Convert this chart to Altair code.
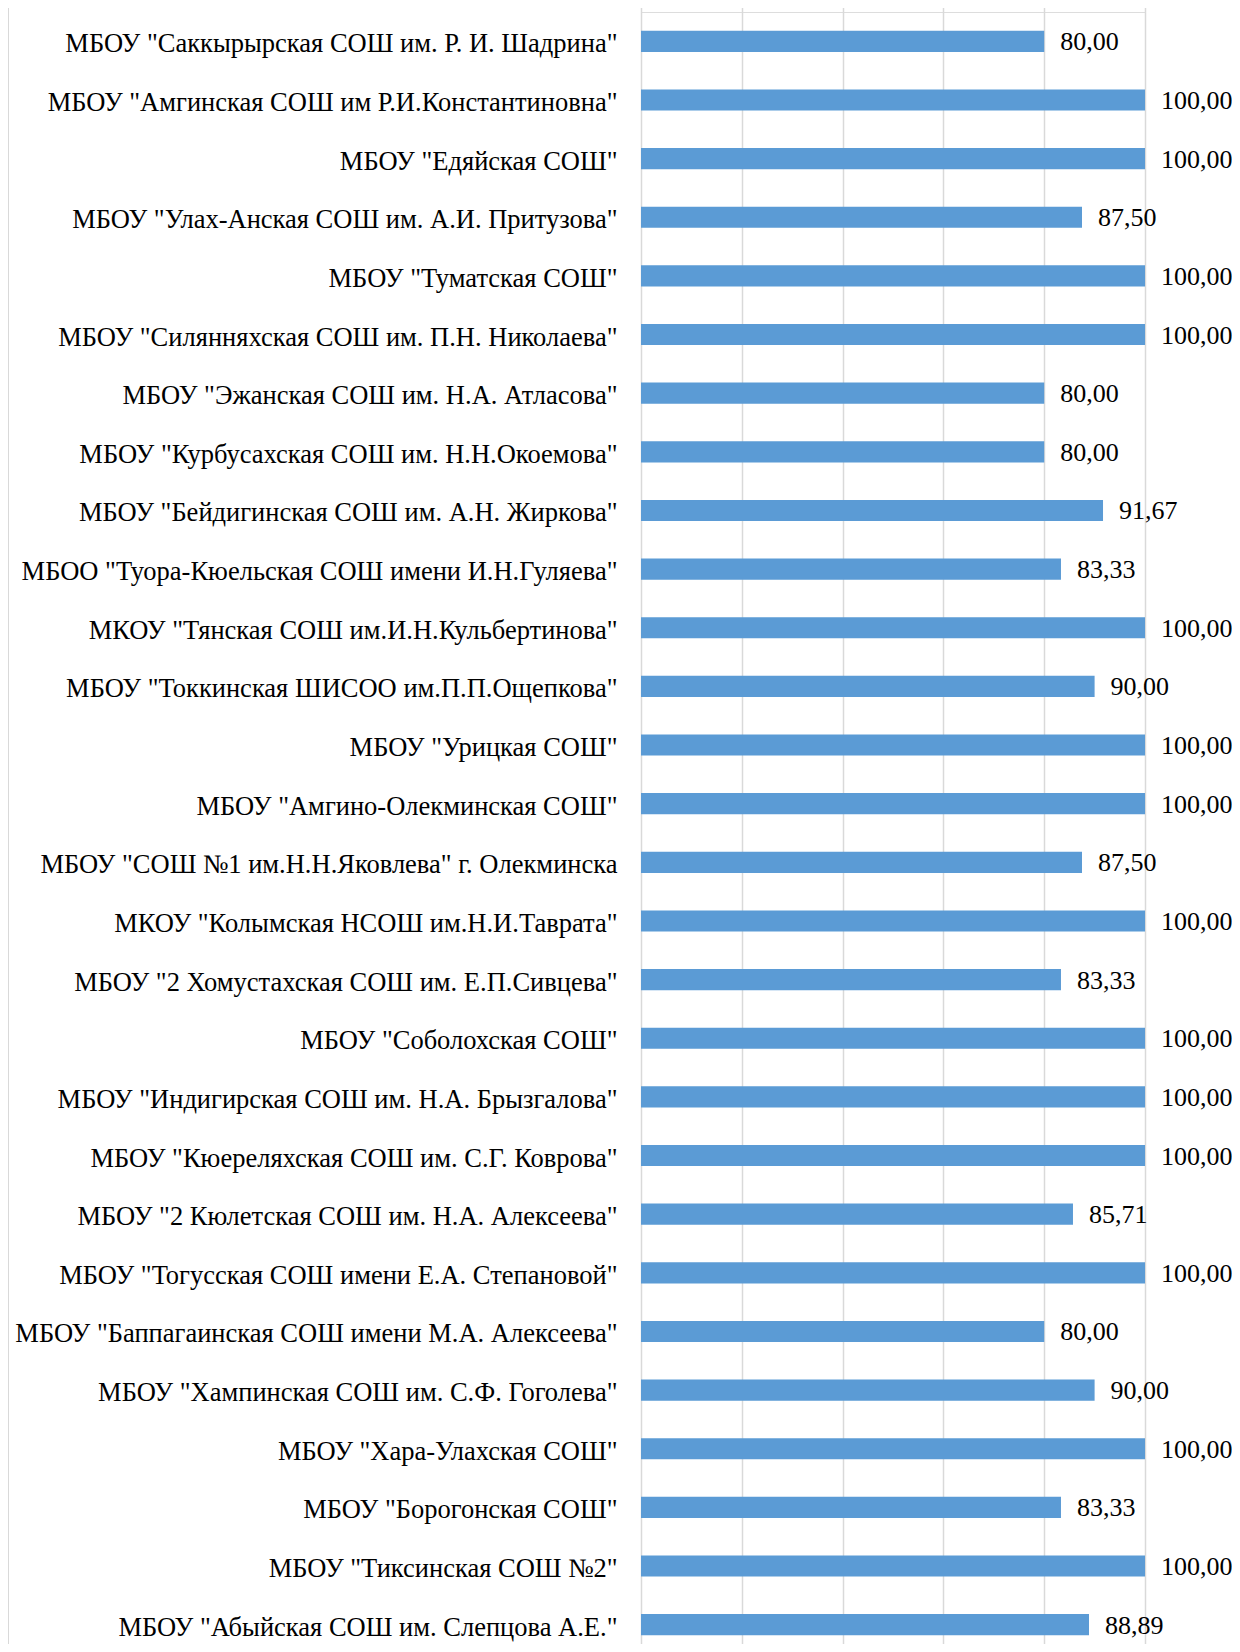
import altair as alt
import pandas as pd

schools = [
    'МБОУ "Саккырырская СОШ им. Р. И. Шадрина"',
    'МБОУ "Амгинская СОШ им Р.И.Константиновна"',
    'МБОУ "Едяйская СОШ"',
    'МБОУ "Улах-Анская СОШ им. А.И. Притузова"',
    'МБОУ "Туматская СОШ"',
    'МБОУ "Силянняхская СОШ им. П.Н. Николаева"',
    'МБОУ "Эжанская СОШ им. Н.А. Атласова"',
    'МБОУ "Курбусахская СОШ им. Н.Н.Окоемова"',
    'МБОУ "Бейдигинская СОШ им. А.Н. Жиркова"',
    'МБОО "Туора-Кюельская СОШ имени И.Н.Гуляева"',
    'МКОУ "Тянская СОШ им.И.Н.Кульбертинова"\u00a0',
    'МБОУ "Токкинская ШИСОО им.П.П.Ощепкова"',
    'МБОУ "Урицкая СОШ"\u00a0',
    'МБОУ "Амгино-Олекминская СОШ"',
    'МБОУ "СОШ №1 им.Н.Н.Яковлева" г. Олекминска',
    'МКОУ "Колымская НСОШ им.Н.И.Таврата"',
    'МБОУ "2 Хомустахская СОШ им. Е.П.Сивцева"',
    'МБОУ "Соболохская СОШ"',
    'МБОУ "Индигирская СОШ им. Н.А. Брызгалова"',
    'МБОУ "Кюереляхская СОШ им. С.Г. Коврова"',
    'МБОУ "2 Кюлетская СОШ им. Н.А. Алексеева"',
    'МБОУ "Тогусская СОШ имени Е.А. Степановой"',
    'МБОУ "Баппагаинская СОШ имени М.А. Алексеева"',
    'МБОУ "Хампинская СОШ им. С.Ф. Гоголева"',
    'МБОУ "Хара-Улахская СОШ"',
    'МБОУ "Борогонская СОШ"',
    'МБОУ "Тиксинская СОШ №2"',
    'МБОУ "Абыйская СОШ им. Слепцова А.Е."',
]

values = [
    80.00, 100.00, 100.00, 87.50, 100.00, 100.00, 80.00, 80.00, 91.67, 83.33,
    100.00, 90.00, 100.00, 100.00, 87.50, 100.00, 83.33, 100.00, 100.00, 100.00,
    85.71, 100.00, 80.00, 90.00, 100.00, 83.33, 100.00, 88.89,
]

grid_ticks = [0, 20, 40, 60, 80, 100]

df = pd.DataFrame({"school": schools, "value": values})

FONT = "Liberation Serif"
BAR = "#5B9BD5"
W = 504
H = 1632          # visible plot height (chart is cut off at the bottom)
BAND_RANGE = 1642  # full extent of the category rows

y_scale = alt.Scale(paddingInner=0.64, paddingOuter=0.32, range=[0, BAND_RANGE])

y_enc = alt.Y(
    "school:N",
    sort=schools,
    scale=y_scale,
    axis=alt.Axis(
        title=None,
        domain=False,
        ticks=False,
        grid=False,
        labelFont=FONT,
        labelFontSize=26.5,
        labelColor="#000000",
        labelPadding=24,
        labelOffset=3,
        labelLimit=700,
    ),
)

x_enc = alt.X(
    "value:Q",
    scale=alt.Scale(domain=[0, 100], nice=False),
    axis=alt.Axis(
        title=None,
        labels=False,
        ticks=False,
        domain=False,
        grid=True,
        values=grid_ticks,
        gridColor="#D9D9D9",
        gridWidth=1.5,
    ),
)

bars = alt.Chart(df).mark_bar(color=BAR).encode(x=x_enc, y=y_enc)

labels = (
    alt.Chart(df)
    .transform_calculate(lbl="replace(format(datum.value, '.2f'), '.', ',')")
    .mark_text(align="left", baseline="middle", dx=16, dy=1, font=FONT, fontSize=26, color="#000000")
    .encode(x="value:Q", y=alt.Y("school:N", sort=schools), text="lbl:N")
)

border = alt.Chart(df).mark_rule(color="#D9D9D9", strokeWidth=1.5).encode(
    x=alt.value(-633), y=alt.value(-4), y2=alt.value(H)
)

chart = (
    alt.layer(border, bars, labels)
    .properties(
        width=W,
        height=H,
        padding={"left": 633, "top": 4, "right": 87, "bottom": 0},
        autosize=alt.AutoSizeParams(type="none"),
    )
    .configure_view(stroke=None)
    .configure(background="#FFFFFF")
)

chart.save("out.html", embed_options={"renderer": "svg", "actions": False})
